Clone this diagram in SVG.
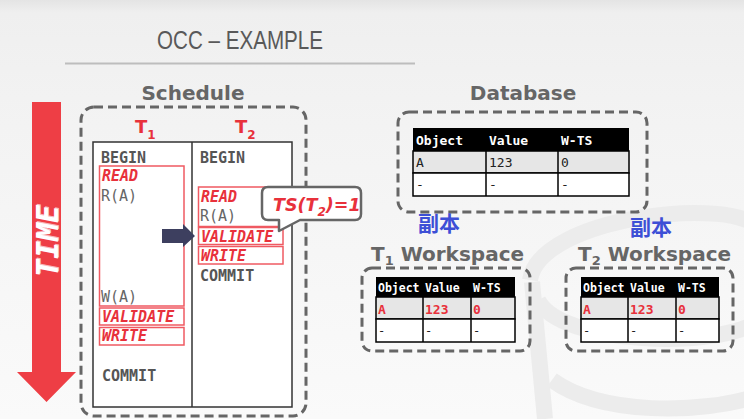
<svg xmlns="http://www.w3.org/2000/svg" width="744" height="419" viewBox="0 0 744 419">
<defs>
<linearGradient id="bg" x1="0" y1="0" x2="0" y2="1">
<stop offset="0" stop-color="#e4e4e4"/>
<stop offset="0.03" stop-color="#efefef"/>
<stop offset="0.3" stop-color="#f3f3f3"/>
<stop offset="1" stop-color="#fafafa"/>
</linearGradient>
<style>
.title{font-family:"Liberation Sans",Arial,sans-serif;font-size:26px;fill:#595959}
.head{font-family:"DejaVu Sans",Verdana,sans-serif;font-weight:bold;font-size:20px;fill:#666}
.dash{fill:none;stroke:#666;stroke-width:3;stroke-dasharray:9 5}
.mono{font-family:"DejaVu Sans Mono","Liberation Mono",monospace;font-size:15px}
.op{font-weight:bold;fill:#555}
.rd{fill:#666}
.ph{font-weight:bold;font-style:italic;fill:#e8313b}
.rbox{fill:none;stroke:#ef5a62;stroke-width:1.5}
.tl{font-family:"DejaVu Sans",Verdana,sans-serif;font-weight:bold;fill:#e8313b}
.cjk{font-family:"Noto Sans CJK SC",sans-serif;font-weight:bold;font-size:21px;fill:#3d4fd6}
.th{font-family:"DejaVu Sans Mono",monospace;font-weight:bold;fill:#fff}
.td{font-family:"DejaVu Sans Mono",monospace;fill:#222}
.tr{font-family:"DejaVu Sans Mono",monospace;font-weight:bold;fill:#e8313b}
.cell{stroke:#000;stroke-width:1.5}
.time{font-family:"DejaVu Sans Mono",monospace;font-weight:bold;font-style:italic;font-size:30px}
</style>
</defs>
<rect width="744" height="419" fill="url(#bg)"/>
<!-- watermark database icon -->
<g fill="none" stroke="#ececec" stroke-width="16">
<path d="M530,280 C540,215 740,195 760,230"/>
<path d="M538,300 C560,345 720,350 760,320"/>
<path d="M532,282 L545,419"/>
<path d="M552,380 C600,415 700,415 760,395"/>
</g>

<text class="title" x="240" y="49" text-anchor="middle" textLength="166" lengthAdjust="spacingAndGlyphs">OCC – EXAMPLE</text>
<line x1="65" y1="63.5" x2="415" y2="63.5" stroke="#bdbdbd" stroke-width="2"/>

<!-- TIME arrow -->
<g id="time">
<polygon points="32,102 61,102 61,372 76,372 46.5,402 17,372 32,372" fill="#ee3e45"/>
<text class="time" transform="translate(47,241) rotate(-90)" x="1" y="12" text-anchor="middle" fill="#f7b6c0">TIME</text>
<text class="time" transform="translate(47,241) rotate(-90)" x="0" y="11" text-anchor="middle" fill="#ffffff">TIME</text>
</g>

<!-- Schedule -->
<g id="schedule">
<text class="head" x="193" y="100" text-anchor="middle">Schedule</text>
<rect class="dash" x="81" y="107" width="225" height="309" rx="13"/>
<text class="tl" x="135" y="133" font-size="18">T<tspan font-size="12" dy="6">1</tspan></text>
<text class="tl" x="235" y="133" font-size="18">T<tspan font-size="12" dy="6">2</tspan></text>
<rect x="93" y="142" width="199" height="265" fill="#fff" stroke="#333" stroke-width="1.5"/>
<line x1="192" y1="142" x2="192" y2="407" stroke="#333" stroke-width="1.5"/>
</g>

<g id="t1-ops" class="mono">
<text class="op" x="101" y="163">BEGIN</text>
<rect class="rbox" x="99.5" y="166" width="84.5" height="140"/>
<text class="ph" x="102" y="181">READ</text>
<text class="rd" x="101" y="201">R(A)</text>
<text class="rd" x="101" y="302">W(A)</text>
<rect class="rbox" x="99.5" y="308" width="84.5" height="17"/>
<text class="ph" x="102" y="322">VALIDATE</text>
<rect class="rbox" x="99.5" y="327.5" width="84.5" height="17.5"/>
<text class="ph" x="102" y="341">WRITE</text>
<text class="op" x="102" y="381">COMMIT</text>
</g>

<g id="t2-ops" class="mono">
<text class="op" x="200" y="163">BEGIN</text>
<rect class="rbox" x="198.5" y="187" width="84.5" height="39.5"/>
<text class="ph" x="201" y="202">READ</text>
<text class="rd" x="200" y="221">R(A)</text>
<rect class="rbox" x="198.5" y="227.5" width="84.5" height="17"/>
<text class="ph" x="201" y="242">VALIDATE</text>
<rect class="rbox" x="198.5" y="246.5" width="84.5" height="17.5"/>
<text class="ph" x="201" y="261">WRITE</text>
<text class="op" x="200" y="281">COMMIT</text>
</g>

<g id="connectors">
<polygon points="162,229 183,229 183,224 195,236 183,247 183,243 162,243" fill="#3d3f5f"/>
</g>

<g id="callout">
<path d="M268,187 H355 Q361,187 361,193 V214 Q361,220 355,220 H300 L279,231 V220 H268 Q262,220 262,214 V193 Q262,187 268,187 Z" fill="#fff" stroke="#666" stroke-width="2.5" stroke-linejoin="round"/>
<text x="273" y="211" font-family="DejaVu Sans,Verdana,sans-serif" font-weight="bold" font-style="italic" font-size="17.5" fill="#e8313b">TS(T<tspan font-size="12" dy="5">2</tspan><tspan dy="-5">)=1</tspan></text>
</g>

<!-- Database -->
<g id="database">
<text class="head" x="523" y="100" text-anchor="middle">Database</text>
<rect class="dash" x="398" y="112" width="249" height="100" rx="11"/>
<rect x="413" y="128" width="216" height="23" fill="#000"/>
<rect class="cell" x="413" y="151" width="216" height="22" fill="#e6e6e6"/>
<rect class="cell" x="413" y="173" width="216" height="23" fill="#fff"/>
<line class="cell" x1="486" y1="128" x2="486" y2="196"/>
<line class="cell" x1="558" y1="128" x2="558" y2="196"/>
<g font-size="13">
<text class="th" x="416" y="145">Object</text>
<text class="th" x="489" y="145">Value</text>
<text class="th" x="561" y="145">W-TS</text>
<text class="td" x="416" y="167">A</text>
<text class="td" x="489" y="167">123</text>
<text class="td" x="561" y="167">0</text>
<text class="td" x="416" y="189">-</text>
<text class="td" x="489" y="189">-</text>
<text class="td" x="561" y="189">-</text>
</g>
</g>

<text class="cjk" x="418" y="231">副本</text>
<text class="cjk" x="630" y="235">副本</text>

<!-- T1 Workspace -->
<g id="t1-workspace">
<text class="head" x="371" y="261" font-size="19">T<tspan font-size="13" dy="4">1</tspan><tspan dy="-4"> Workspace</tspan></text>
<rect class="dash" x="362" y="268" width="168" height="83" rx="10"/>
<rect x="376" y="277" width="139" height="20" fill="#000"/>
<rect class="cell" x="376" y="297" width="139" height="22" fill="#e6e6e6"/>
<rect class="cell" x="376" y="319" width="139" height="23" fill="#fff"/>
<line class="cell" x1="423" y1="277" x2="423" y2="342"/>
<line class="cell" x1="471" y1="277" x2="471" y2="342"/>
<text class="th" x="378" y="292" font-size="11.5">Object</text>
<text class="th" x="425" y="292" font-size="11.5">Value</text>
<text class="th" x="473" y="292" font-size="11.5">W-TS</text>
<text class="tr" x="378" y="314" font-size="13">A</text>
<text class="tr" x="425" y="314" font-size="13">123</text>
<text class="tr" x="473" y="314" font-size="13">0</text>
<text class="td" x="378" y="335" font-size="12">-</text>
<text class="td" x="425" y="335" font-size="12">-</text>
<text class="td" x="473" y="335" font-size="12">-</text>
</g>

<!-- T2 Workspace -->
<g id="t2-workspace">
<text class="head" x="578" y="261" font-size="19">T<tspan font-size="13" dy="4">2</tspan><tspan dy="-4"> Workspace</tspan></text>
<rect class="dash" x="566" y="268" width="167" height="83" rx="10"/>
<rect x="581" y="277" width="138" height="20" fill="#000"/>
<rect class="cell" x="581" y="297" width="138" height="22" fill="#e6e6e6"/>
<rect class="cell" x="581" y="319" width="138" height="23" fill="#fff"/>
<line class="cell" x1="628" y1="277" x2="628" y2="342"/>
<line class="cell" x1="676" y1="277" x2="676" y2="342"/>
<text class="th" x="583" y="292" font-size="11.5">Object</text>
<text class="th" x="630" y="292" font-size="11.5">Value</text>
<text class="th" x="678" y="292" font-size="11.5">W-TS</text>
<text class="tr" x="583" y="314" font-size="13">A</text>
<text class="tr" x="630" y="314" font-size="13">123</text>
<text class="tr" x="678" y="314" font-size="13">0</text>
<text class="td" x="583" y="335" font-size="12">-</text>
<text class="td" x="630" y="335" font-size="12">-</text>
<text class="td" x="678" y="335" font-size="12">-</text>
</g>
</svg>
